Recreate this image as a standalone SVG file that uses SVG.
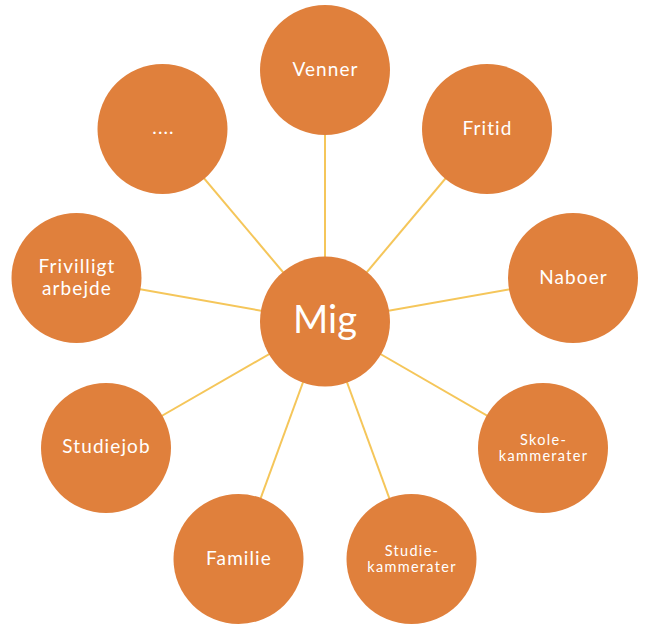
<svg xmlns="http://www.w3.org/2000/svg" width="647" height="632" viewBox="0 0 647 632">
<style>
.node circle{fill:#E0803C}
.node text{fill:#FFFFFF;font-family:Lato,"Open Sans","DejaVu Sans",sans-serif;text-anchor:middle}
.l{font-size:19px;letter-spacing:1.1px}
.s{font-size:14.5px;letter-spacing:1.3px}
.conn line{stroke:#F5C65A;stroke-width:2}
</style>
<rect width="647" height="632" fill="#FFFFFF"/>
<g id="connectors" class="conn">
<line x1="325" y1="322" x2="325" y2="70"/>
<line x1="325" y1="322" x2="487" y2="129"/>
<line x1="325" y1="322" x2="573" y2="278"/>
<line x1="325" y1="322" x2="543" y2="448"/>
<line x1="325" y1="322" x2="411.5" y2="559"/>
<line x1="325" y1="322" x2="238.5" y2="559"/>
<line x1="325" y1="322" x2="106" y2="448"/>
<line x1="325" y1="322" x2="76.5" y2="278"/>
<line x1="325" y1="322" x2="162.5" y2="129"/>
</g>
<g id="node-venner" class="node"><circle cx="325" cy="70" r="65"/><text class="l" x="325.5" y="76">Venner</text></g>
<g id="node-fritid" class="node"><circle cx="487" cy="129" r="65"/><text class="l" x="487.5" y="135">Fritid</text></g>
<g id="node-naboer" class="node"><circle cx="573" cy="278" r="65"/><text class="l" x="573.5" y="284">Naboer</text></g>
<g id="node-skolekammerater" class="node"><circle cx="543" cy="448" r="65"/><text class="s" x="543.5" y="445">Skole-</text><text class="s" x="543.5" y="461">kammerater</text></g>
<g id="node-studiekammerater" class="node"><circle cx="411.5" cy="559" r="65"/><text class="s" x="412" y="556">Studie-</text><text class="s" x="412" y="572">kammerater</text></g>
<g id="node-familie" class="node"><circle cx="238.5" cy="559" r="65"/><text class="l" x="239" y="565">Familie</text></g>
<g id="node-studiejob" class="node"><circle cx="106" cy="448" r="65"/><text class="l" x="106.5" y="453">Studiejob</text></g>
<g id="node-frivilligt" class="node"><circle cx="76.5" cy="278" r="65"/><text class="l" x="77" y="273">Frivilligt</text><text class="l" x="77" y="295">arbejde</text></g>
<g id="node-dots" class="node"><circle cx="162.5" cy="129" r="65"/><text class="l" x="163.5" y="134" letter-spacing="2.5">....</text></g>
<g id="node-mig" class="node"><circle cx="325" cy="321.5" r="65"/><text x="325" y="333" font-size="38px">Mig</text></g>
</svg>
